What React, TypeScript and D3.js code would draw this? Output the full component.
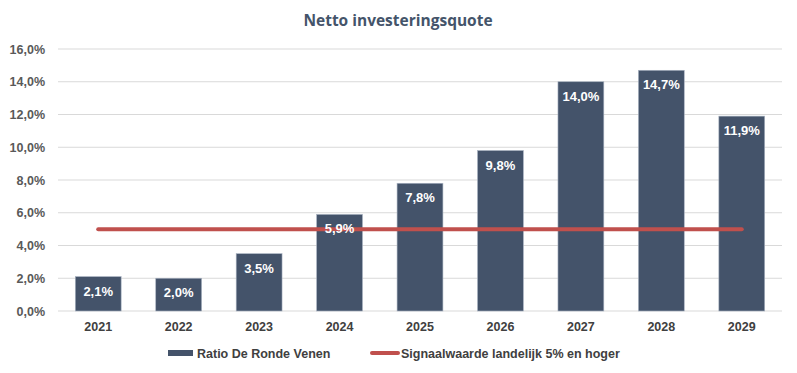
import React from "react";
import * as d3 from "d3";

const categories = ["2021", "2022", "2023", "2024", "2025", "2026", "2027", "2028", "2029"];
const ratioValues = [2.1, 2.0, 3.5, 5.9, 7.8, 9.8, 14.0, 14.7, 11.9];
const signalValues = [5, 5, 5, 5, 5, 5, 5, 5, 5];
const yTicks = [0, 2, 4, 6, 8, 10, 12, 14, 16];
const seriesNames = ["Ratio De Ronde Venen", "Signaalwaarde landelijk 5% en hoger"];

const W = 797, H = 373;
const left = 58, right = 782, top = 49, bottom = 311;
const barColor = "#44536A";
const lineColor = "#C0504D";
const fmt = (v: number) => v.toFixed(1).replace(".", ",") + "%";

export default function App() {
  const x = d3.scaleBand<string>().domain(categories).range([left, right]).paddingInner(0.43).paddingOuter(0.215);
  const y = d3.scaleLinear().domain([0, 16]).range([bottom, top]);
  const cx = (c: string) => (x(c) as number) + x.bandwidth() / 2;
  const line = d3.line<number>().x((_, i) => cx(categories[i])).y((d) => y(d));
  const font = "Arial, 'Liberation Sans', sans-serif";
  return (
    <svg width={W} height={H} style={{ position: "absolute", left: 0, top: 0 }}>
      <rect width={W} height={H} fill="#fff" />
      <text x={398} y={26} textAnchor="middle" fontFamily="'Open Sans', sans-serif" fontWeight={700} fontSize={15.5} fill="#44546A">Netto investeringsquote</text>
      {yTicks.map((t) => (
        <g key={t}>
          <line x1={left} x2={right} y1={y(t)} y2={y(t)} stroke="#D9D9D9" strokeWidth={1} />
          <text x={45} y={y(t) + 4.5} textAnchor="end" fontFamily={font} fontWeight={700} fontSize={12.5} fill="#595959">{fmt(t)}</text>
        </g>
      ))}
      {categories.map((c, i) => (
        <g key={c}>
          <rect x={x(c)} y={y(ratioValues[i])} width={x.bandwidth()} height={bottom - y(ratioValues[i])} fill={barColor} stroke="#A9B3C2" strokeWidth={0.6} />
          <text x={cx(c)} y={331} textAnchor="middle" fontFamily={font} fontWeight={700} fontSize={12.5} fill="#404040">{c}</text>
        </g>
      ))}
      <path d={line(signalValues) || ""} fill="none" stroke={lineColor} strokeWidth={4} strokeLinecap="round" />
      {categories.map((c, i) => (
        <text key={"l" + c} x={cx(c)} y={y(ratioValues[i]) + 19} textAnchor="middle" fontFamily={font} fontWeight={700} fontSize={13} fill="#fff">{fmt(ratioValues[i])}</text>
      ))}
      <rect x={168} y={350} width={25} height={6} fill={barColor} />
      <text x={197} y={358} fontFamily={font} fontWeight={700} fontSize={12.5} fill="#404040">{seriesNames[0]}</text>
      <line x1={372} x2={398} y1={353} y2={353} stroke={lineColor} strokeWidth={4} strokeLinecap="round" />
      <text x={401} y={358} fontFamily={font} fontWeight={700} fontSize={12.5} fill="#404040">{seriesNames[1]}</text>
    </svg>
  );
}
